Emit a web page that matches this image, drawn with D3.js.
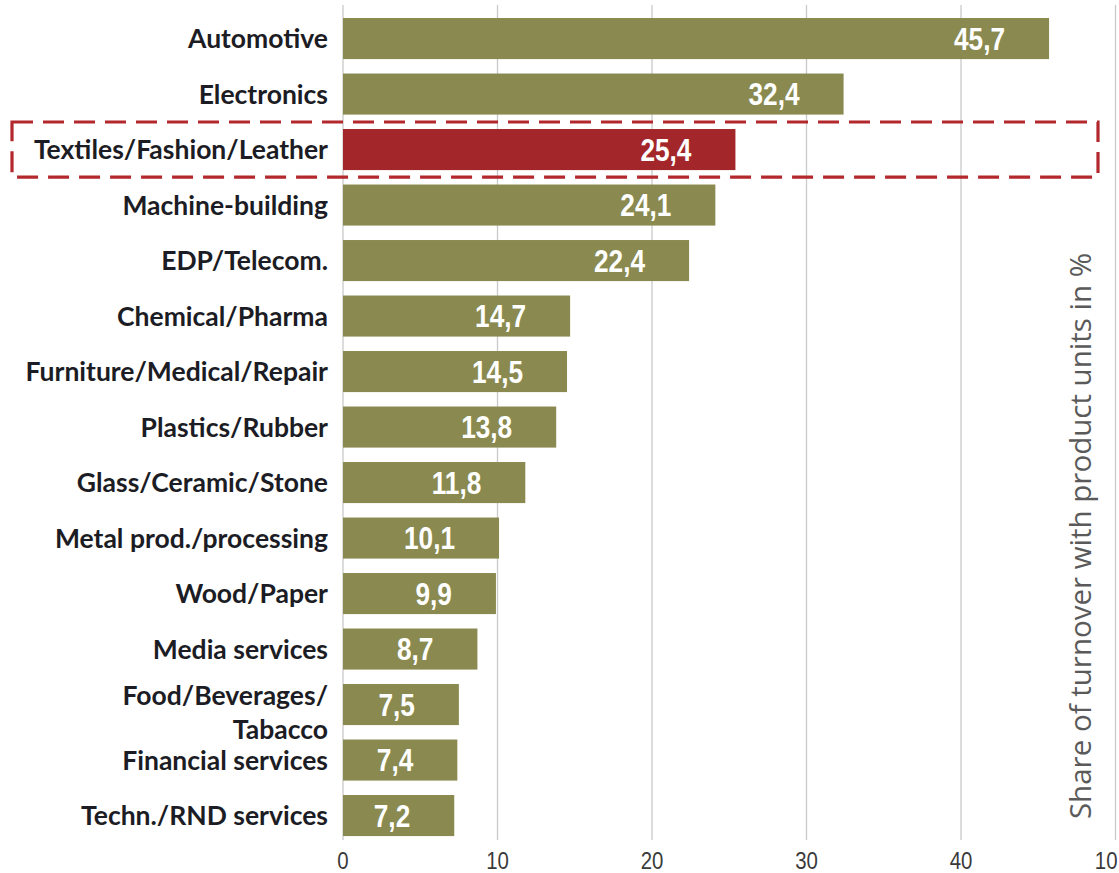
<!DOCTYPE html>
<html><head><meta charset="utf-8">
<script src="https://cdn.jsdelivr.net/npm/d3@7/dist/d3.min.js"></script>
<style>body{margin:0;background:#fff}svg{display:block}</style>
</head><body><svg id="c" width="1119" height="873"></svg>
<script>
const categories = ["Automotive","Electronics","Textiles/Fashion/Leather","Machine-building","EDP/Telecom.","Chemical/Pharma","Furniture/Medical/Repair","Plastics/Rubber","Glass/Ceramic/Stone","Metal prod./processing","Wood/Paper","Media services","Food/Beverages/Tabacco","Financial services","Techn./RND services"];
const categoryLines = [["Automotive"],["Electronics"],["Textiles/Fashion/Leather"],["Machine-building"],["EDP/Telecom."],["Chemical/Pharma"],["Furniture/Medical/Repair"],["Plastics/Rubber"],["Glass/Ceramic/Stone"],["Metal prod./processing"],["Wood/Paper"],["Media services"],["Food/Beverages/","Tabacco"],["Financial services"],["Techn./RND services"]];
const values = [45.7,32.4,25.4,24.1,22.4,14.7,14.5,13.8,11.8,10.1,9.9,8.7,7.5,7.4,7.2];
const valueLabels = ["45,7","32,4","25,4","24,1","22,4","14,7","14,5","13,8","11,8","10,1","9,9","8,7","7,5","7,4","7,2"];
const highlight = "Textiles/Fashion/Leather";
const tickValues = [0,10,20,30,40,50];
const tickLabels = ["0","10","20","30","40","10"];
const axisTitle = "Share of turnover with product units in %";

const svg = d3.select("#c");
const x = d3.scaleLinear().domain([0,50]).range([343,1115.5]);
const y = d3.scaleBand().domain(categories).range([10.8,843.3]).paddingInner(0.26).paddingOuter(0.13);

// gridlines
svg.append("g").selectAll("line").data(tickValues).join("line")
  .attr("x1",d=>x(d)).attr("x2",d=>x(d)).attr("y1",5).attr("y2",840)
  .attr("stroke","#c9c9c9").attr("stroke-width",1.3);

// bars
svg.append("g").selectAll("rect").data(categories).join("rect")
  .attr("x",x(0)).attr("y",d=>y(d)).attr("height",y.bandwidth())
  .attr("width",(d,i)=>x(values[i])-x(0))
  .attr("fill",d=>d===highlight?"#a3272a":"#8a8a50");

// value labels (condensed)
svg.append("g").selectAll("text").data(categories).join("text")
  .attr("transform",(d,i)=>`translate(${x(values[i])-44},${y(d)+y.bandwidth()/2}) scale(0.86,1)`)
  .attr("dy","0.36em").attr("text-anchor","end")
  .attr("font-family","'Liberation Sans',Arial,sans-serif")
  .attr("font-weight","bold").attr("font-size",30.5).attr("fill","#fff")
  .text((d,i)=>valueLabels[i]);

// category labels
const cl = svg.append("g").selectAll("text").data(categories).join("text")
  .attr("text-anchor","end")
  .attr("font-family","Lato,'Open Sans',sans-serif")
  .attr("font-weight","bold").attr("font-size",26.5).attr("fill","#1c1c24")
  .attr("transform",d=>`translate(328,${y(d)+y.bandwidth()/2})`);
cl.each(function(d,i){
  const lines = categoryLines[i];
  const t = d3.select(this);
  lines.forEach((ln,j)=>{
    t.append("tspan").attr("x",0)
     .attr("y", lines.length>1 ? (j===0?-9:25) : 0)
     .attr("dy","0.36em").text(ln);
  });
});

// highlight dashed box
const hy = y(highlight);
svg.append("rect").attr("x",12).attr("y",hy-7).attr("width",1086).attr("height",y.bandwidth()+14)
  .attr("fill","none").attr("stroke","#b3282d").attr("stroke-width",3.2)
  .attr("stroke-dasharray","21 10");

// tick labels
svg.append("g").selectAll("text").data(tickValues).join("text")
  .attr("transform",(d,i)=>`translate(${i===tickValues.length-1?x(d)+2:x(d)},860) scale(0.85,1)`)
  .attr("dy","0.36em")
  .attr("text-anchor",(d,i)=>i===tickValues.length-1?"end":"middle")
  .attr("font-family","'Liberation Sans',Arial,sans-serif")
  .attr("font-size",24).attr("fill","#3a3a3a")
  .text((d,i)=>tickLabels[i]);

// axis title
svg.append("text").attr("transform","translate(1080,536) rotate(-90)")
  .attr("text-anchor","middle").attr("dy","0.36em")
  .attr("font-family","'Open Sans',Lato,sans-serif").attr("font-size",29.5).attr("fill","#5a5a5a")
  .text(axisTitle);
</script></body></html>
